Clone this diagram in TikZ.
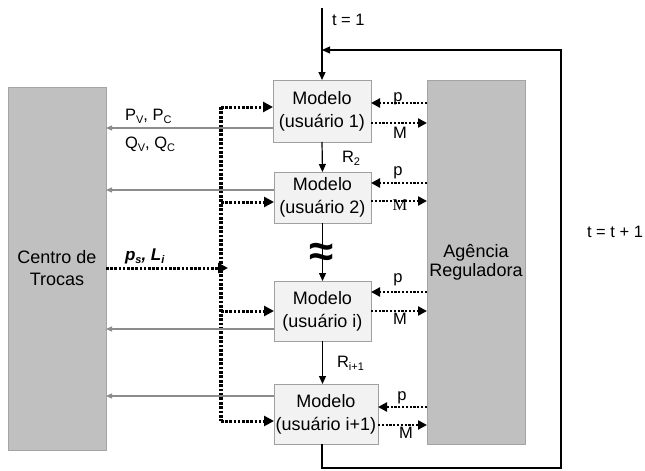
\documentclass[tikz,border=0pt]{standalone}
\usepackage{fontspec}
\setmainfont{Liberation Sans}
\newfontfamily\serifM{Liberation Serif}
\usetikzlibrary{arrows.meta}
\newcommand{\sbs}[1]{\raisebox{-0.4ex}{\fontsize{11}{11}\selectfont #1}}
\definecolor{boxfill}{HTML}{F2F2F2}
\definecolor{boxline}{HTML}{A0A0A0}
\definecolor{bigfill}{HTML}{C0C0C0}
\definecolor{bigline}{HTML}{A4A4A4}
\definecolor{garrow}{HTML}{8C8C8C}
\begin{document}
\begin{tikzpicture}[x=1pt,y=-1pt,
  every node/.style={inner sep=0pt, outer sep=0pt, font=\fontsize{18}{23}\selectfont},
  modelbox/.style={draw=boxline, fill=boxfill, line width=0.8pt, align=center, minimum width=98pt},
  bigbox/.style={draw=bigline, fill=bigfill, line width=0.8pt, align=center, minimum width=98pt, minimum height=363pt},
  lbl/.style={font=\fontsize{16.5}{18}\selectfont},
  blk/.style={line width=1.2pt, -{Triangle[length=8pt,width=7pt]}},
  dotbus/.style={line width=3.6pt, dash pattern=on 2.8pt off 1.6pt},
  dotarr/.style={line width=3pt, dash pattern=on 2.6pt off 1.6pt, -{Triangle[length=10pt,width=10pt]}},
  dotsm/.style={line width=2.4pt, dash pattern=on 2.2pt off 1.6pt, -{Triangle[length=9pt,width=9pt]}},
  garr/.style={draw=garrow, line width=1.1pt, -{Triangle[length=6pt,width=5pt]}}
]
\useasboundingbox (0,0) rectangle (645,471);

% big boxes
\node[bigbox, font=\fontsize{18}{22}\selectfont] (ct) at (57,268.5) {Centro de\\Trocas};
\node[bigbox, minimum height=364pt, font=\fontsize{18}{19}\selectfont] (ag) at (476,262) {Agência\\Reguladora};

% model boxes
\node[modelbox, minimum height=62pt] (m1) at (322,111) {Modelo\\(usuário 1)};
\node[modelbox, minimum height=51pt, minimum width=97pt] (m2) at (322.5,197.5) {Modelo\\(usuário 2)};
\node[modelbox, minimum height=60pt, minimum width=97pt] (m3) at (322.5,311) {Modelo\\(usuário i)};
\node[modelbox, minimum height=60pt, minimum width=104pt] (m4) at (326,414) {Modelo\\(usuário i+1)};

% time flow
\coordinate (tstart) at (322,8);
\coordinate (fb) at (322,50);
\draw[blk] (tstart) -- (m1.north);
\node[lbl, anchor=base west] (t1) at (332,25) {t = 1};
\draw[blk] (m4.south -| fb) -- ++(0,24) -| (561,50) -- (fb);
\node[lbl, anchor=base west] (tt) at (587,237) {t = t + 1};

% vertical chain
\draw[blk] (m1.south) -- (m2.north);
\node[lbl, anchor=base west] (r2) at (342,162) {R\sbs{2}};
\draw[blk] (m2.south) -- (m2.south |- m3.north);
\node[font=\fontsize{44}{44}\selectfont\bfseries] (apx) at (322,255) {≈};
\draw[blk] (m3.south) -- (m3.south |- m4.north);
\node[lbl, anchor=base west] (ri) at (337,367) {R\sbs{i+1}};

% dotted bus
\coordinate (bt) at (221,107);
\coordinate (bb) at (221,421);
\draw[dotbus] (bt) -- (bb);
\draw[dotarr] (bt) -- (bt -| m1.west);
\draw[dotarr] (221,202) -- (m2.west |- 0,202);
\draw[dotarr] (221,311) -- (m3.west |- 0,311);
\draw[dotarr] (bb) -- (bb -| m4.west);
\draw[dotarr] (ct.east |- 0,268) -- (228,268);
\node[lbl, anchor=base west, font=\fontsize{17}{18}\selectfont\bfseries\itshape] (ps) at (125,260) {p\sbs{s}, L\sbs{i}};

% gray arrows to Centro de Trocas
\draw[garr] (m1.west |- 0,128) -- (ct.east |- 0,128);
\draw[garr] (m2.west |- 0,190) -- (ct.east |- 0,190);
\draw[garr] (m3.west |- 0,329) -- (ct.east |- 0,329);
\draw[garr] (m4.west |- 0,396) -- (ct.east |- 0,396);
\node[lbl, anchor=base west] (pv) at (125,120) {P\sbs{V}, P\sbs{C}};
\node[lbl, anchor=base west] (qv) at (125,148) {Q\sbs{V}, Q\sbs{C}};

% p / M arrows with Agencia
\draw[dotsm] (ag.west |- 0,103) -- (m1.east |- 0,103);
\draw[dotsm] (m1.east |- 0,123) -- (ag.west |- 0,123);
\node[lbl] (p1) at (398,99) {p};
\node[lbl] (M1) at (400,133) {M};
\draw[dotsm] (ag.west |- 0,183) -- (m2.east |- 0,183);
\draw[dotsm] (m2.east |- 0,201) -- (ag.west |- 0,201);
\node[lbl] (p2) at (398,173) {p};
\node[lbl, font=\fontsize{16.5}{18}\serifM] (M2) at (400,205) {M};
\draw[dotsm] (ag.west |- 0,292) -- (m3.east |- 0,292);
\draw[dotsm] (m3.east |- 0,311) -- (ag.west |- 0,311);
\node[lbl] (p3) at (398,280) {p};
\node[lbl] (M3) at (400,319) {M};
\draw[dotsm] (ag.west |- 0,407) -- (m4.east |- 0,407);
\draw[dotsm] (m4.east |- 0,425) -- (ag.west |- 0,425);
\node[lbl] (p4) at (402,398) {p};
\node[lbl] (M4) at (406,433) {M};
\end{tikzpicture}
\end{document}
